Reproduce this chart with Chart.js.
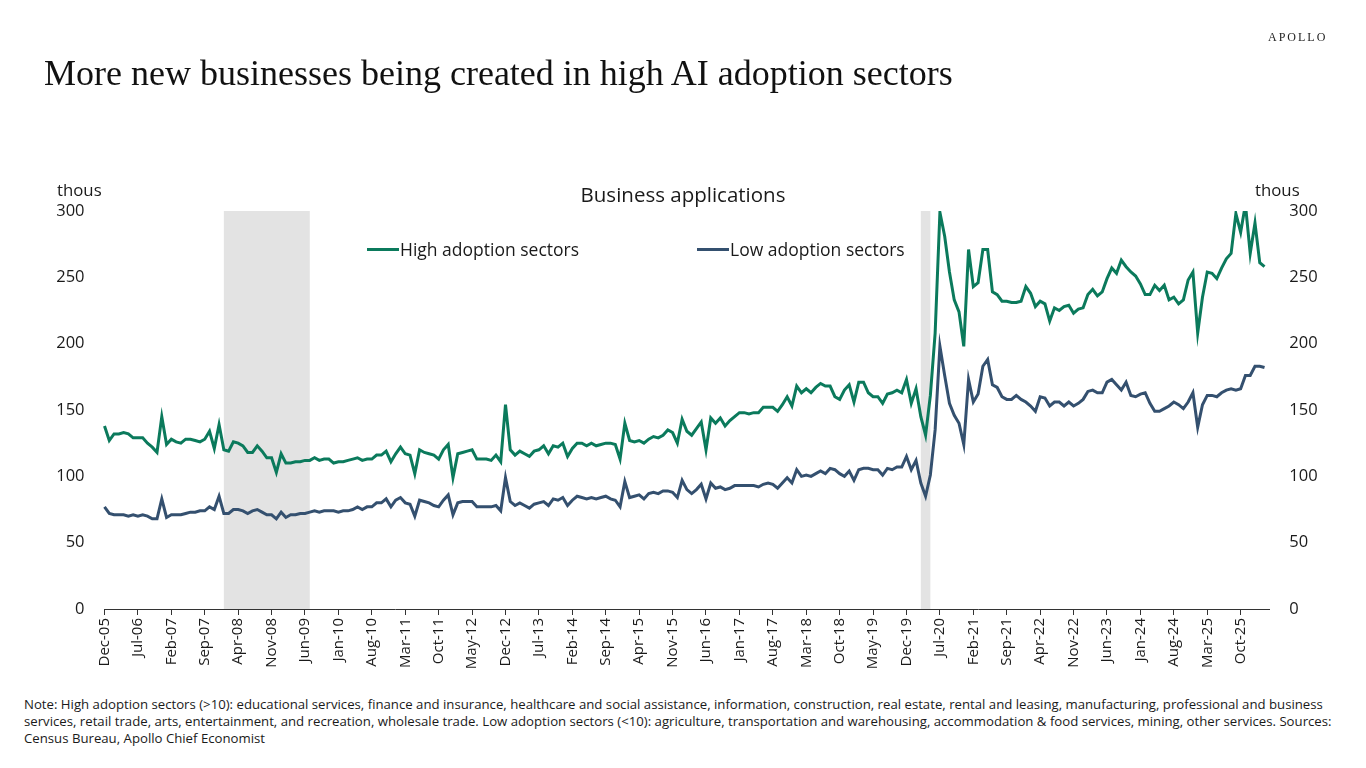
<!DOCTYPE html>
<html>
<head>
<meta charset="utf-8">
<script src="https://cdn.jsdelivr.net/npm/chart.js@4.4.1/dist/chart.umd.min.js"></script>
<style>
    body { margin: 0; background: #fff; width: 1366px; height: 768px; position: relative; overflow: hidden; font-family: 'Open Sans', sans-serif; color: #1a1a1a; }
    #apps { position: absolute; left: 0; top: 0; }
    .abs { position: absolute; white-space: nowrap; }
    .title { left: 44px; top: 52px; font-family: 'Liberation Serif', serif; font-size: 36px; color: #111; }
    .brand { left: 1268px; top: 30px; font-family: 'Liberation Serif', serif; font-size: 12px; letter-spacing: 2px; color: #222; }
    .subtitle { left: 0; width: 1366px; text-align: center; top: 180px; font-size: 20.5px; }
    .unit { top: 178px; font-size: 16.8px; }
    .legend-item { top: 237px; font-size: 17.5px; display: flex; align-items: center; }
    .legend-item i { display: inline-block; width: 32px; height: 3px; margin-right: 1px; }
    .note { left: 24px; top: 696px; font-size: 13.2px; line-height: 17px; }
</style>
</head>
<body>
<canvas id="apps" width="1366" height="690"></canvas>

<div class="abs title">More new businesses being created in high AI adoption sectors</div>
<div class="abs brand">APOLLO</div>
<div class="abs subtitle">Business applications</div>
<div class="abs unit" style="left:57px">thous</div>
<div class="abs unit" style="left:1255px">thous</div>
<div class="abs legend-item" style="left:367px"><i id="lgHigh"></i>High adoption sectors</div>
<div class="abs legend-item" style="left:697px"><i id="lgLow"></i>Low adoption sectors</div>
<div class="abs note">
    Note: High adoption sectors (&gt;10): educational services, finance and insurance, healthcare and social assistance, information, construction, real estate, rental and leasing, manufacturing, professional and business<br>
    services, retail trade, arts, entertainment, and recreation, wholesale trade. Low adoption sectors (&lt;10): agriculture, transportation and warehousing, accommodation &amp; food services, mining, other services. Sources:<br>
    Census Bureau, Apollo Chief Economist
</div>

<script>
// Monthly series, thousands of applications, starting Dec-05
const highAdoption = [
    138, 127, 132, 132, 133, 132, 129, 129, 129, 125, 122, 118,
    145, 124, 128, 126, 125, 128, 128, 127, 126, 128, 134, 121,
    139, 120, 119, 126, 125, 123, 118, 118, 123, 119, 114, 114,
    103, 117, 110, 110, 111, 111, 112, 112, 114, 112, 113, 113,
    110, 111, 111, 112, 113, 114, 112, 113, 113, 116, 116, 119,
    111, 117, 122, 117, 116, 102, 120, 118, 117, 116, 113, 120,
    124, 99, 117, 118, 119, 120, 113, 113, 113, 112, 116, 111,
    154, 120, 116, 119, 117, 115, 119, 120, 123, 117, 123, 122,
    125, 115, 121, 125, 125, 123, 125, 123, 124, 125, 125, 124,
    113, 140, 127, 126, 127, 125, 128, 130, 129, 131, 135, 133,
    125, 143, 134, 131, 136, 141, 120, 144, 140, 144, 138, 142,
    145, 148, 148, 147, 148, 148, 152, 152, 152, 149, 154, 160,
    153, 168, 163, 166, 163, 167, 170, 168, 168, 160, 158, 165,
    169, 156, 171, 171, 163, 160, 160, 155, 162, 163, 165, 163,
    173, 155, 166, 145, 131, 161, 208, 299, 281, 254, 233, 224,
    198, 271, 243, 246, 271, 271, 239, 237, 232, 232, 231, 231,
    232, 243, 238, 228, 232, 230, 217, 227, 225, 228, 229, 223,
    226, 227, 237, 241, 236, 239, 249, 257, 253, 263, 258, 254,
    251, 245, 237, 237, 244, 240, 244, 233, 235, 230, 233, 248,
    254, 208, 235, 254, 253, 249, 257, 264, 268, 298, 284, 305,
    268, 291, 261, 258
];

const lowAdoption = [
    77, 72, 71, 71, 71, 70, 71, 70, 71, 70, 68, 68,
    83, 69, 71, 71, 71, 72, 73, 73, 74, 74, 77, 75,
    85, 72, 72, 75, 75, 74, 72, 74, 75, 73, 71, 71,
    68, 73, 69, 71, 71, 72, 72, 73, 74, 73, 74, 74,
    74, 73, 74, 74, 75, 77, 75, 77, 77, 80, 80, 83,
    77, 82, 84, 80, 79, 70, 82, 81, 80, 78, 77, 82,
    86, 71, 80, 81, 81, 81, 77, 77, 77, 77, 78, 74,
    99, 81, 78, 80, 78, 76, 79, 80, 81, 78, 83, 82,
    84, 78, 82, 85, 84, 83, 84, 83, 84, 85, 83, 82,
    77, 96, 84, 85, 86, 83, 87, 88, 87, 89, 89, 88,
    84, 97, 90, 87, 90, 94, 83, 95, 91, 92, 90, 91,
    93, 93, 93, 93, 93, 92, 94, 95, 94, 91, 95, 99,
    95, 105, 100, 101, 100, 102, 104, 102, 106, 105, 102, 100,
    104, 97, 105, 106, 106, 105, 105, 101, 106, 105, 107, 107,
    115, 105, 112, 95, 85, 101, 135, 198, 176, 155, 146, 140,
    124, 173, 156, 162, 183, 188, 169, 167, 160, 158, 158, 161,
    158, 156, 153, 149, 160, 159, 153, 156, 156, 153, 156, 153,
    155, 158, 164, 165, 163, 163, 171, 173, 169, 165, 171, 161,
    160, 162, 163, 155, 149, 149, 151, 153, 156, 154, 151, 156,
    163, 137, 154, 161, 161, 160, 163, 165, 166, 165, 166, 176,
    176, 183, 183, 182
];

// Shaded recession periods (category labels)
const recessionSpans = [['Jan-08', 'Jul-09'], ['Mar-20', 'May-20']];

const yTicks = [0, 50, 100, 150, 200, 250, 300];

const GREEN = '#0b7a5c';
const NAVY = '#34506f';

// Axis runs Dec-05 .. Apr-26, one month past the last observation
const MONTHS = ['Jan', 'Feb', 'Mar', 'Apr', 'May', 'Jun', 'Jul', 'Aug', 'Sep', 'Oct', 'Nov', 'Dec'];
const monthLabels = [];
for (let y = 2005, m = 11; y < 2026 || (y === 2026 && m <= 3); m++) {
    if (m === 12) { m = 0; y++; }
    if (y === 2026 && m > 3) break;
    monthLabels.push(MONTHS[m] + '-' + String(y % 100).padStart(2, '0'));
}

document.getElementById('lgHigh').style.background = GREEN;
document.getElementById('lgLow').style.background = NAVY;

const shadePlugin = {
    id: 'recessionShade',
    beforeDraw(chart) {
        const { ctx, chartArea, scales } = chart;
        ctx.save();
        ctx.fillStyle = '#e3e3e3';
        recessionSpans.forEach(([a, b]) => {
            const x0 = scales.x.getPixelForValue(monthLabels.indexOf(a));
            const x1 = scales.x.getPixelForValue(monthLabels.indexOf(b));
            ctx.fillRect(x0, chartArea.top, x1 - x0, chartArea.bottom - chartArea.top);
        });
        ctx.restore();
    }
};

const tickFont = { family: 'Open Sans', size: 16.5 };

new Chart(document.getElementById('apps').getContext('2d'), {
    type: 'line',
    data: {
        labels: monthLabels,
        datasets: [{
            label: 'High adoption sectors',
            data: highAdoption,
            borderColor: GREEN,
            borderWidth: 3,
            pointRadius: 0,
            tension: 0
        }, {
            label: 'Low adoption sectors',
            data: lowAdoption,
            borderColor: NAVY,
            borderWidth: 3,
            pointRadius: 0,
            tension: 0
        }]
    },
    options: {
        responsive: false,
        animation: false,
        devicePixelRatio: 1,
        layout: { padding: { top: 211, left: 0, right: 0, bottom: 0 } },
        plugins: { legend: { display: false }, tooltip: { enabled: false } },
        scales: {
            x: {
                ticks: {
                    autoSkip: false,
                    minRotation: 90,
                    maxRotation: 90,
                    padding: 3,
                    color: '#1a1a1a',
                    font: { family: 'Open Sans', size: 15 },
                    callback: function (value, index) {
                        return index % 7 === 0 ? this.getLabelForValue(value) : null;
                    }
                },
                grid: { drawOnChartArea: false, tickLength: 6, color: '#333' },
                border: { color: '#333', width: 1 },
                afterFit: s => { s.height = 81; }
            },
            y: {
                position: 'left',
                min: 0,
                max: 300,
                afterBuildTicks: s => { s.ticks = yTicks.map(v => ({ value: v })); },
                ticks: { padding: 12, color: '#1a1a1a', font: tickFont },
                grid: { display: false },
                border: { display: false },
                afterFit: s => { s.width = 104.5; }
            },
            y2: {
                position: 'right',
                min: 0,
                max: 300,
                afterBuildTicks: s => { s.ticks = yTicks.map(v => ({ value: v })); },
                ticks: { padding: 12, color: '#1a1a1a', font: tickFont },
                grid: { display: false },
                border: { display: false },
                afterFit: s => { s.width = 96.7; }
            }
        }
    },
    plugins: [shadePlugin]
});
</script>
</body>
</html>
